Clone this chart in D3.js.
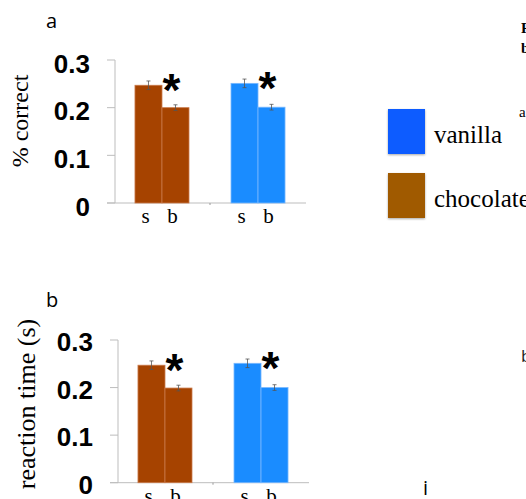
<!DOCTYPE html>
<html>
<head>
<meta charset="utf-8">
<script src="https://cdn.jsdelivr.net/npm/d3@7"></script>
<style>
  body { margin: 0; background: #fff; }
  svg { display: block; }
</style>
</head>
<body>
<svg id="chart" width="526" height="499"></svg>
<script>
// DATA
var flavours = ["chocolate", "vanilla"];
var conditions = ["s", "b"];
var yTicks = [0, 0.1, 0.2, 0.3];

// panel a : % correct
var correctChoc = [0.247, 0.200];
var correctVan = [0.251, 0.201];
var correctErrChoc = [0.009, 0.006];
var correctErrVan = [0.009, 0.006];

// panel b : reaction time
var rtChoc = [0.247, 0.199];
var rtVan = [0.251, 0.200];
var rtErrChoc = [0.009, 0.006];
var rtErrVan = [0.009, 0.006];

var legendNames = ["vanilla", "chocolate"];

var barColor = { chocolate: "#a64300", vanilla: "#1a8cff" };
var barEdge = { chocolate: "#c9794a", vanilla: "#78b8ff" };
var legendColor = { vanilla: "#0a5cff", chocolate: "#a05a00" };

var svg = d3.select("#chart");

// DRAW ONE PANEL
function drawPanel(opt) {
  var g = svg.append("g");
  var yScale = d3.scaleLinear().domain([0, 0.3]).range([opt.y0, opt.y1]);
  var xScale = d3.scaleBand().domain(flavours)
    .range([opt.axisX, opt.axisX + 190])
    .paddingInner(0.4375).paddingOuter(0.208);
  var subScale = d3.scaleBand().domain(conditions).range([0, xScale.bandwidth()]);

  var rows = [];
  flavours.forEach(function(f) {
    var vals = f === "chocolate" ? opt.choc : opt.van;
    var errs = f === "chocolate" ? opt.chocErr : opt.vanErr;
    conditions.forEach(function(c, i) {
      rows.push({ flavour: f, cond: c, value: vals[i], err: errs[i] });
    });
  });

  // y axis
  g.append("line")
    .attr("x1", opt.axisX).attr("x2", opt.axisX)
    .attr("y1", yScale(0)).attr("y2", yScale(0.3))
    .attr("stroke", "#bdbdbd").attr("stroke-width", 1);
  g.selectAll(".ytick").data(yTicks).enter().append("line")
    .attr("x1", opt.axisX - 8).attr("x2", opt.axisX)
    .attr("y1", function(d) { return yScale(d); })
    .attr("y2", function(d) { return yScale(d); })
    .attr("stroke", "#bdbdbd").attr("stroke-width", 1);
  g.selectAll(".ylab").data(yTicks).enter().append("text")
    .attr("x", opt.axisX - 25)
    .attr("y", function(d) { return yScale(d) + opt.labelDy; })
    .attr("text-anchor", "end")
    .attr("font-family", "Liberation Sans, Arial, sans-serif")
    .attr("font-weight", "bold")
    .attr("font-size", "26px")
    .text(function(d) { return d === 0 ? "0" : d3.format(".1f")(d); });

  // x axis
  g.append("line")
    .attr("x1", opt.axisX - 8).attr("x2", opt.axisX + 191)
    .attr("y1", yScale(0)).attr("y2", yScale(0))
    .attr("stroke", "#bdbdbd").attr("stroke-width", 1);
  var midX = (xScale("chocolate") + xScale.bandwidth() + xScale("vanilla")) / 2;
  g.append("line")
    .attr("x1", midX).attr("x2", midX)
    .attr("y1", yScale(0)).attr("y2", yScale(0) + 2)
    .attr("stroke", "#999");

  // bars
  g.selectAll(".bar").data(rows).enter().append("rect")
    .attr("x", function(d) { return xScale(d.flavour) + subScale(d.cond); })
    .attr("y", function(d) { return yScale(d.value); })
    .attr("width", subScale.bandwidth())
    .attr("height", function(d) { return yScale(0) - yScale(d.value); })
    .attr("fill", function(d) { return barColor[d.flavour]; })
    .attr("stroke", function(d) { return barEdge[d.flavour]; })
    .attr("stroke-width", 0.8);

  // error bars
  var eb = g.selectAll(".err").data(rows).enter().append("g")
    .attr("stroke", "#555").attr("stroke-width", 0.8);
  eb.append("line")
    .attr("x1", function(d) { return xScale(d.flavour) + subScale(d.cond) + subScale.bandwidth() / 2; })
    .attr("x2", function(d) { return xScale(d.flavour) + subScale(d.cond) + subScale.bandwidth() / 2; })
    .attr("y1", function(d) { return yScale(d.value + d.err); })
    .attr("y2", function(d) { return yScale(d.value - d.err); });
  [1, -1].forEach(function(sgn) {
    eb.append("line")
      .attr("x1", function(d) { return xScale(d.flavour) + subScale(d.cond) + subScale.bandwidth() / 2 - 2; })
      .attr("x2", function(d) { return xScale(d.flavour) + subScale(d.cond) + subScale.bandwidth() / 2 + 2; })
      .attr("y1", function(d) { return yScale(d.value + sgn * d.err); })
      .attr("y2", function(d) { return yScale(d.value + sgn * d.err); });
  });

  // x labels
  g.selectAll(".xlab").data(rows).enter().append("text")
    .attr("x", function(d) { return xScale(d.flavour) + subScale(d.cond) + subScale.bandwidth() / 2 - 3; })
    .attr("y", yScale(0) + 20)
    .attr("text-anchor", "middle")
    .attr("font-family", "Liberation Serif, Times New Roman, serif")
    .attr("font-size", "21px")
    .text(function(d) { return d.cond; });

  // significance stars
  g.selectAll(".star").data(flavours).enter().append("text")
    .attr("x", function(d) { return xScale(d) + subScale("b") + subScale.bandwidth() / 2 - 4; })
    .attr("y", function(d) {
      var v = d === "chocolate" ? opt.choc[0] : opt.van[0];
      return yScale(v) - 4 + 25;
    })
    .attr("text-anchor", "middle")
    .attr("font-family", "Liberation Sans, Arial, sans-serif")
    .attr("font-weight", "bold")
    .attr("font-size", "46px")
    .text("*");

  // y title
  g.append("text")
    .attr("transform", "translate(" + opt.titleX + "," + opt.titleY + ") rotate(-90)")
    .attr("text-anchor", "middle")
    .attr("font-family", "Liberation Serif, Times New Roman, serif")
    .attr("font-size", opt.titleSize)
    .text(opt.title);

  // panel letter
  g.append("text")
    .attr("x", 46).attr("y", opt.letterY)
    .attr("font-family", "Open Sans, sans-serif")
    .attr("font-size", "20px")
    .text(opt.letter);
}

drawPanel({
  axisX: 115, y0: 203, y1: 60, labelDy: 12.5,
  choc: correctChoc, van: correctVan, chocErr: correctErrChoc, vanErr: correctErrVan,
  title: "% correct", titleX: 28, titleY: 121, titleSize: "24px",
  letter: "a", letterY: 28
});

drawPanel({
  axisX: 118, y0: 482.7, y1: 340, labelDy: 11,
  choc: rtChoc, van: rtVan, chocErr: rtErrChoc, vanErr: rtErrVan,
  title: "reaction time (s)", titleX: 35, titleY: 404, titleSize: "26px",
  letter: "b", letterY: 307
});

// LEGEND
var legend = svg.append("g");
var defs = svg.append("defs");
var filt = defs.append("filter").attr("id", "shadow")
  .attr("x", "-20%").attr("y", "-20%").attr("width", "140%").attr("height", "140%");
filt.append("feDropShadow").attr("dx", 0).attr("dy", 1).attr("stdDeviation", 1.2)
  .attr("flood-color", "#000").attr("flood-opacity", 0.35);

var legY = d3.scalePoint().domain(legendNames).range([109, 173]);
legend.selectAll(".sw").data(legendNames).enter().append("rect")
  .attr("x", 388).attr("y", function(d) { return legY(d); })
  .attr("width", 37).attr("height", 45)
  .attr("fill", function(d) { return legendColor[d]; })
  .attr("filter", "url(#shadow)");
legend.selectAll(".lt").data(legendNames).enter().append("text")
  .attr("x", 434).attr("y", function(d) { return legY(d) + 34; })
  .attr("font-family", "Liberation Serif, Times New Roman, serif")
  .attr("font-size", "25px")
  .text(function(d) { return d; });

// CLIPPED TEXT AT RIGHT EDGE
var serif = "Liberation Serif, Times New Roman, serif";
svg.append("text").attr("x", 521).attr("y", 33).attr("font-family", serif)
  .attr("font-weight", "bold").attr("font-size", "15px").text("F");
svg.append("text").attr("x", 521).attr("y", 53).attr("font-family", serif)
  .attr("font-weight", "bold").attr("font-size", "15px").text("b");
svg.append("text").attr("x", 519).attr("y", 117).attr("font-family", serif)
  .attr("font-size", "15px").text("a");
svg.append("text").attr("x", 521).attr("y", 362).attr("font-family", "Open Sans, sans-serif")
  .attr("font-size", "17px").attr("fill", "#222").text("b");
svg.append("text").attr("x", 423).attr("y", 495).attr("font-family", "Open Sans, sans-serif")
  .attr("font-size", "20px").text("i");
</script>
</body>
</html>
